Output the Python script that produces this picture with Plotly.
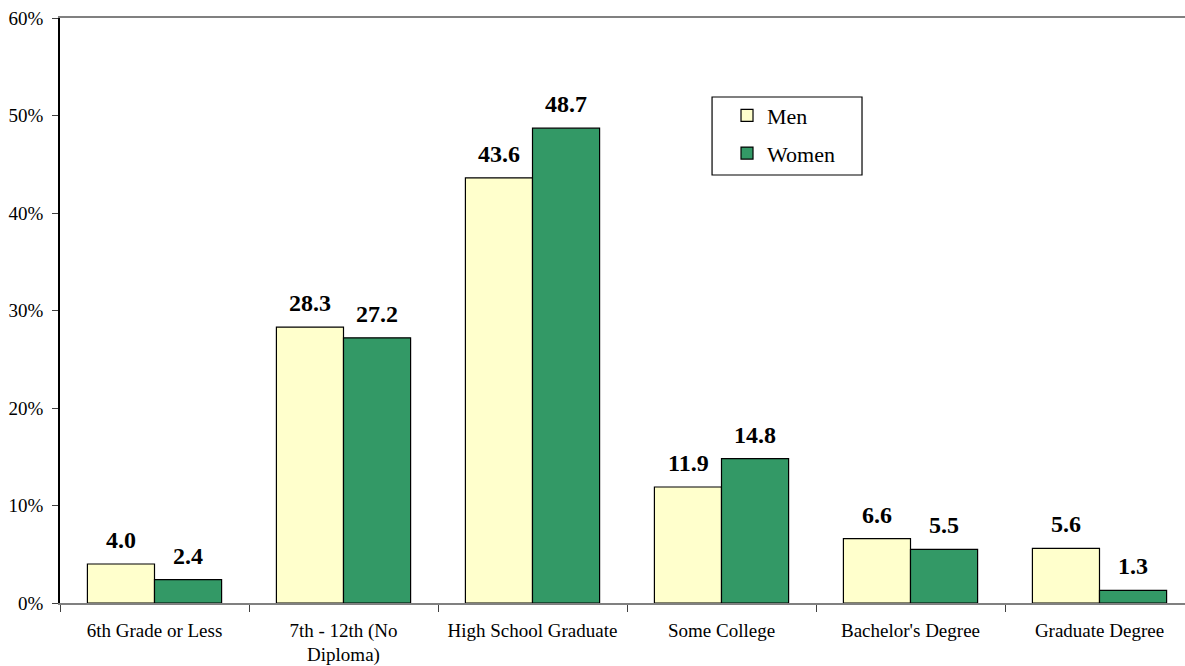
import plotly.graph_objects as go

categories = ["6th Grade or Less", "7th - 12th (No<br>Diploma)", "High School Graduate",
              "Some College", "Bachelor's Degree", "Graduate Degree"]
men = [4.0, 28.3, 43.6, 11.9, 6.6, 5.6]
women = [2.4, 27.2, 48.7, 14.8, 5.5, 1.3]
y_ticks = [0, 10, 20, 30, 40, 50, 60]
y_ticklabels = ["0%", "10%", "20%", "30%", "40%", "50%", "60%"]

font_family = "Liberation Serif"

fig = go.Figure()
fig.add_trace(go.Bar(
    name="Men", x=categories, y=men, legendgroup="men",
    marker=dict(color="#FFFFCC", line=dict(color="black", width=1.2)),
    hoverinfo="x+y",
))
fig.add_trace(go.Bar(
    name="Women", x=categories, y=women, legendgroup="women",
    marker=dict(color="#339966", line=dict(color="black", width=1.2)),
    hoverinfo="x+y",
))

# value labels above each bar (half-bar offset within each group)
for series, shift in ((men, -33.5), (women, 33.5)):
    for cat, v in zip(categories, series):
        fig.add_annotation(
            x=cat, y=v, text=f"<b>{v:.1f}</b>", showarrow=False,
            xref="x", yref="y", xanchor="center", yanchor="bottom",
            xshift=shift, yshift=9,
            font=dict(family=font_family, size=24, color="black"),
        )

fig.update_layout(
    width=1185, height=666,
    margin=dict(l=60, r=0, t=18, b=63, autoexpand=False),
    plot_bgcolor="white", paper_bgcolor="white",
    barmode="group", bargap=0.29, bargroupgap=0,
    font=dict(family=font_family, size=19, color="black"),
    legend=dict(
        x=0.5929, y=0.869, xanchor="left", yanchor="top",
        borderwidth=0, bgcolor="rgba(0,0,0,0)",
        font=dict(family=font_family, size=22, color="black"),
        itemwidth=30, tracegroupgap=6,
    ),
    showlegend=True,
    shapes=[dict(type="rect", xref="paper", yref="paper",
                 x0=0.5796, x1=0.7129, y0=0.7316, y1=0.865,
                 line=dict(color="black", width=1.2), fillcolor="rgba(0,0,0,0)",
                 layer="below")],
)
fig.update_xaxes(
    range=[-0.5, -0.5 + 1125 / 189], automargin=False,
    showline=True, linecolor="#808080", linewidth=1.5, mirror=True,
    ticks="outside", tickson="boundaries", ticklen=7, tickcolor="#404040",
    ticklabelstandoff=9,
    showgrid=False, tickfont=dict(family=font_family, size=19, color="black"),
)
fig.update_yaxes(
    range=[0, 60], tickvals=y_ticks, ticktext=y_ticklabels, automargin=False,
    showline=True, linecolor="black", linewidth=1.5,
    ticks="outside", ticklen=6, tickcolor="#404040",
    ticklabelstandoff=5,
    showgrid=False, zeroline=False,
    tickfont=dict(family=font_family, size=19, color="black"),
)

fig.write_html("out.html", config={"displayModeBar": False},
               post_script="document.body.style.margin='0';")
